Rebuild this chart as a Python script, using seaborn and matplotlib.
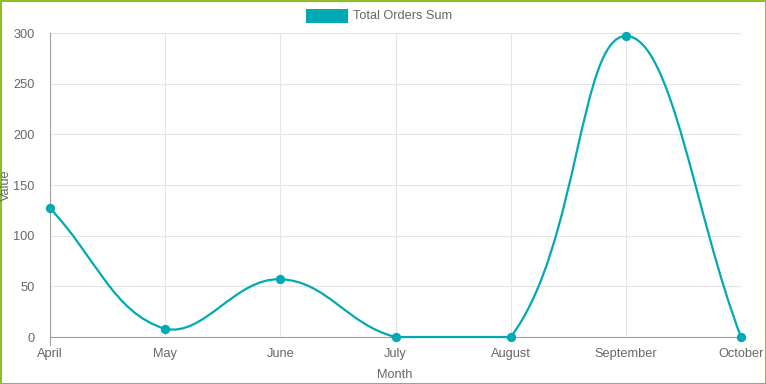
import numpy as np
import pandas as pd
import seaborn as sns
import matplotlib
matplotlib.use("Agg")
from matplotlib import pyplot as plt
from matplotlib.path import Path
from matplotlib.patches import PathPatch, Rectangle

months = ["April", "May", "June", "July", "August", "September", "October"]
order_sums = [127, 8, 57, 0, 0, 297, 0]
series_name = "Total Orders Sum"

line_color = "#00a9b3"
grid_color = "#e4e4e4"
text_color = "#666666"

sns.set_style("white")
plt.rcParams["font.family"] = ["Liberation Sans", "DejaVu Sans"]

W, H = 766, 384
fig = plt.figure(figsize=(W / 100, H / 100), dpi=100)
ax = fig.add_axes([50 / W, 1 - 337 / H, (741 - 50) / W, (337 - 33) / H])

df = pd.DataFrame({"Month": months, "Value": order_sums})

ax.set_xlim(0, len(months) - 1)
ax.set_ylim(0, 300)


def spline_path(ax, xs, ys, tension=0.4):
    # Chart.js style cubic bezier, computed in pixel space, capped to chart area
    pts = ax.transData.transform(np.column_stack([xs, ys]))
    (x0, y0), (x1, y1) = ax.transData.transform([(ax.get_xlim()[0], ax.get_ylim()[0]),
                                                  (ax.get_xlim()[1], ax.get_ylim()[1])])
    n = len(pts)
    cp_prev = np.zeros_like(pts)
    cp_next = np.zeros_like(pts)
    for i in range(n):
        prev = pts[i - 1] if i > 0 else pts[i]
        cur = pts[i]
        nxt = pts[i + 1] if i < n - 1 else pts[i]
        d01 = np.hypot(*(cur - prev))
        d12 = np.hypot(*(nxt - cur))
        tot = d01 + d12
        s01 = d01 / tot if tot else 0
        s12 = d12 / tot if tot else 0
        cp_prev[i] = cur - tension * s01 * (nxt - prev)
        cp_next[i] = cur + tension * s12 * (nxt - prev)
    for cp in (cp_prev, cp_next):
        cp[:, 0] = np.clip(cp[:, 0], x0, x1)
        cp[:, 1] = np.clip(cp[:, 1], y0, y1)
    verts = [pts[0]]
    codes = [Path.MOVETO]
    for i in range(n - 1):
        verts += [cp_next[i], cp_prev[i + 1], pts[i + 1]]
        codes += [Path.CURVE4] * 3
    verts = ax.transData.inverted().transform(np.array(verts))
    return Path(verts, codes)


# Smooth curve
path = spline_path(ax, np.arange(len(months)), np.array(order_sums, dtype=float))
ax.add_patch(PathPatch(path, facecolor="none", edgecolor=line_color, lw=1.6,
                       zorder=3, clip_on=False))

# Points
sns.scatterplot(data=df, x="Month", y="Value", ax=ax, color=line_color, s=45,
                edgecolor=line_color, linewidth=0, zorder=4, clip_on=False)

ax.set_xlim(0, len(months) - 1)
ax.set_ylim(0, 300)
ax.set_yticks(np.arange(0, 301, 50))
ax.set_xticks(range(len(months)))
ax.set_xticklabels(months)

# Grid and axes styling
ax.grid(True, color=grid_color, lw=0.8)
for side in ["top", "right"]:
    ax.spines[side].set_visible(False)
for side in ["left", "bottom"]:
    ax.spines[side].set_color("#a0a0a0")
    ax.spines[side].set_linewidth(0.8)
ax.spines["left"].set_bounds(-8 * 300 / 304, 300)
ax.tick_params(axis="y", length=9, width=0.8, color=grid_color, pad=2,
               labelsize=9.2, labelcolor=text_color)
ax.tick_params(axis="x", length=0, width=0.8, color=grid_color, pad=8,
               labelsize=9.2, labelcolor=text_color)

ax.set_xlabel("")
ax.set_ylabel("")
fig.text(395 / W, 1 - 375 / H, "Month", ha="center", va="center",
         fontsize=9.2, color=text_color)
fig.text(6 / W, 1 - 185 / H, "Value", rotation=90, ha="center", va="center",
         fontsize=9.2, color=text_color)

# Legend
fig.patches.append(Rectangle((306 / W, 1 - 23 / H), 42 / W, 14 / H,
                             transform=fig.transFigure, facecolor=line_color,
                             edgecolor="none"))
fig.text(353 / W, 1 - 16 / H, series_name, ha="left", va="center",
         fontsize=9.2, color=text_color)

# Outer border
fig.patches.append(Rectangle((0, 0), 1, 1, transform=fig.transFigure,
                             facecolor="none", edgecolor="#8fbe25", lw=2.2))

fig.savefig("out.png", dpi=100)
